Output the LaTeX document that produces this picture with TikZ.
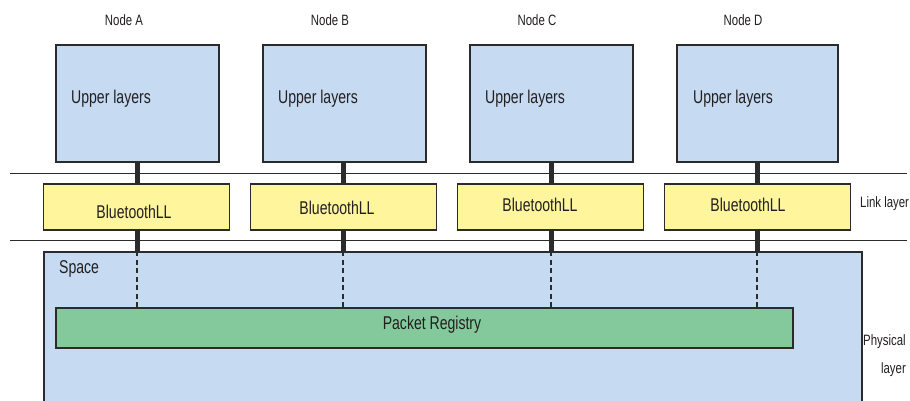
\documentclass[tikz,border=0pt]{standalone}
\usepackage{fontspec}
\setmainfont[FakeStretch=0.76]{Liberation Sans}
\definecolor{upblue}{HTML}{C6DAF1}
\definecolor{llyellow}{HTML}{FEF59C}
\definecolor{pkgreen}{HTML}{83C99B}
\definecolor{edge}{HTML}{2B2B2B}
\definecolor{txt}{HTML}{231F20}
\tikzset{
  upbox/.style={draw=edge, line width=1.2pt, fill=upblue, minimum width=163pt, minimum height=117pt, inner sep=0pt},
  llbox/.style={draw=edge, line width=1.2pt, fill=llyellow, minimum width=186pt, minimum height=46pt, inner sep=0pt},
  bigtxt/.style={text=txt, inner sep=0pt, yshift=-2pt, font=\fontsize{18.5}{20}\selectfont},
  smalltxt/.style={text=txt, inner sep=0pt, yshift=-1.5pt, font=\fontsize{15}{17}\selectfont},
  thickcon/.style={draw=edge, line width=5pt},
  dashcon/.style={draw=edge, line width=2pt, dash pattern=on 5pt off 3.5pt},
  sepline/.style={draw=edge, line width=1pt}
}
\begin{document}
\begin{tikzpicture}[x=1pt,y=-1pt]
\clip (0,0) rectangle (910,401);
\fill[white] (0,0) rectangle (910,401);
% separator lines
\coordinate (l1a) at (10,173); \coordinate (l1b) at (907,173);
\coordinate (l2a) at (10,240); \coordinate (l2b) at (907,240);
\draw[sepline] (l1a) -- (l1b);
\draw[sepline] (l2a) -- (l2b);
% space
\node[draw=edge, line width=1.2pt, fill=upblue, minimum width=818pt, minimum height=170pt, inner sep=0pt] (space) at (453,337) {};
\node[bigtxt, anchor=west] (spacet) at (59,267) {Space};
\node[draw=edge, line width=1.2pt, fill=pkgreen, minimum width=737pt, minimum height=40pt, inner sep=0pt] (pkt) at (424.5,328) {};
\node[bigtxt] (pktt) at (432,323) {Packet Registry};
% upper boxes
\node[upbox] (Aup) at (137.5,103.5) {};
\node[upbox] (Bup) at (344.5,103.5) {};
\node[upbox] (Cup) at (551.5,103.5) {};
\node[upbox, minimum width=161pt] (Dup) at (757.5,103.5) {};
\node[bigtxt] (Aupt) at (111,97) {Upper layers};
\node[bigtxt] (Bupt) at (318,97) {Upper layers};
\node[bigtxt] (Cupt) at (525,97) {Upper layers};
\node[bigtxt] (Dupt) at (733,97) {Upper layers};
% node labels
\node[smalltxt] (An) at (124,19) {Node A};
\node[smalltxt] (Bn) at (330,19) {Node B};
\node[smalltxt] (Cn) at (537,19) {Node C};
\node[smalltxt] (Dn) at (743,19) {Node D};
% link layer boxes
\node[llbox] (All) at (136.5,207) {};
\node[llbox] (Bll) at (343.5,207) {};
\node[llbox] (Cll) at (550.5,207) {};
\node[llbox] (Dll) at (757.5,207) {};
\node[bigtxt] (Allt) at (134,210) {BluetoothLL};
\node[bigtxt] (Bllt) at (337,205.5) {BluetoothLL};
\node[bigtxt] (Cllt) at (540,202.5) {BluetoothLL};
\node[bigtxt] (Dllt) at (748,203) {BluetoothLL};
% side labels
\node[smalltxt, anchor=west] (link) at (860,202) {Link layer};
\node[smalltxt, anchor=west] (phys1) at (863,340) {Physical};
\node[smalltxt, anchor=east] (phys2) at (906,368) {layer};
% connectors
\foreach \n/\x in {A/137,B/343,C/551,D/757}{
  \coordinate (c\n) at (\x,0);
  \draw[thickcon] (c\n |- \n up.south) -- (c\n |- \n ll.north);
}
\foreach \n in {A,B,C,D}{
  \draw[thickcon] ([yshift=2pt]c\n |- \n ll.south) -- (c\n |- space.north);
  \draw[dashcon] (c\n |- space.north) -- (c\n |- pkt.north);
}
\end{tikzpicture}
\end{document}
